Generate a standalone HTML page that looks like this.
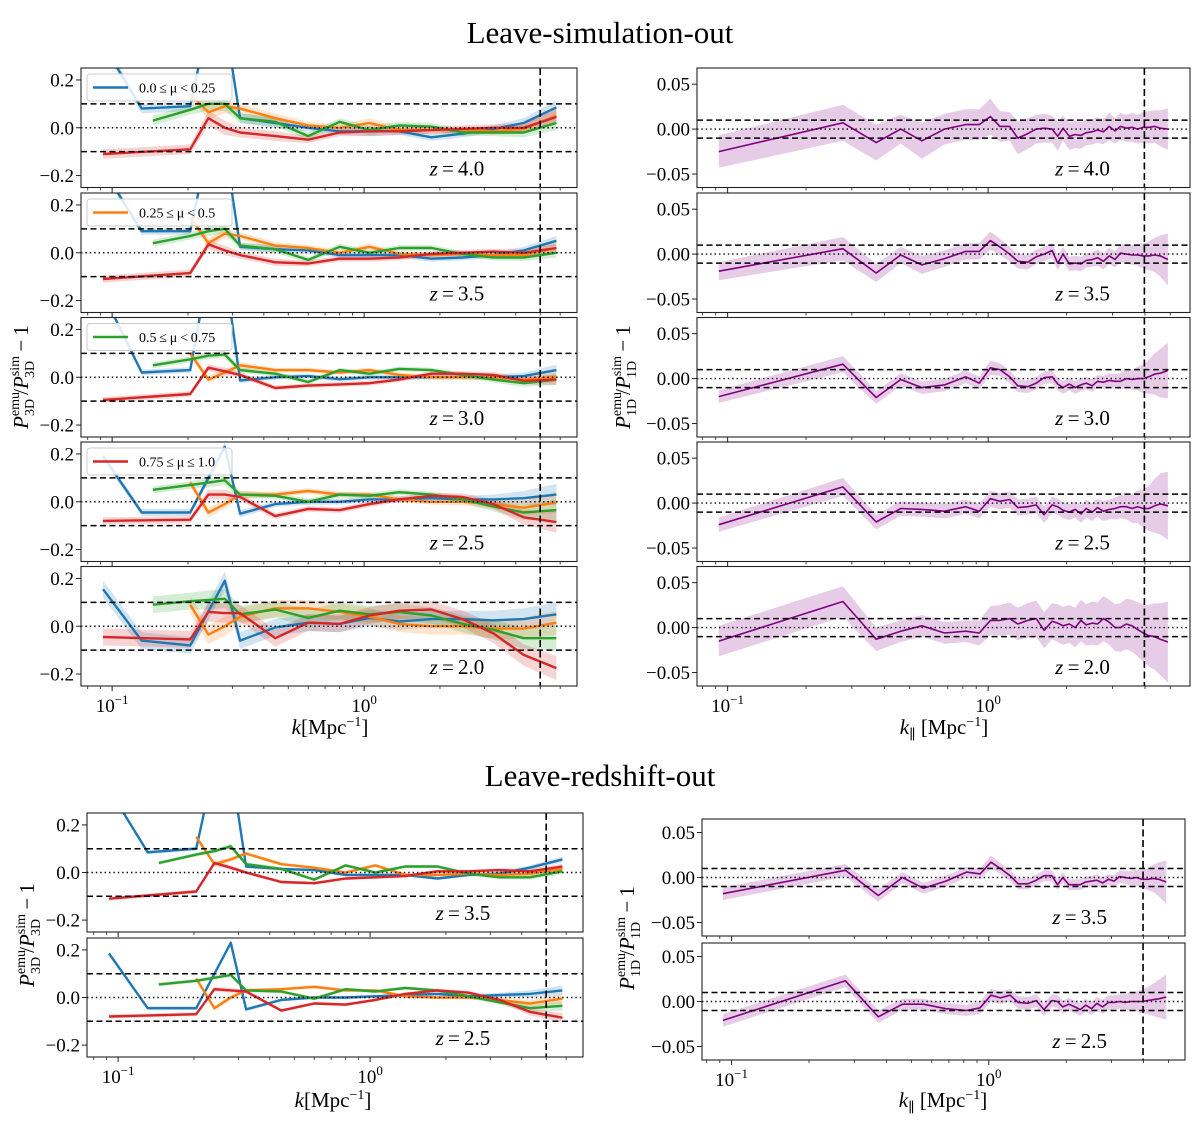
<!DOCTYPE html>
<html><head><meta charset="utf-8"><style>
html,body{margin:0;padding:0;background:#fff}
svg{display:block;font-family:"Liberation Serif","DejaVu Serif",serif}
</style></head><body>
<svg id="fig" width="1200" height="1122" viewBox="0 0 1200 1122" xmlns="http://www.w3.org/2000/svg">
<text x="600" y="43" font-size="31" text-anchor="middle">Leave-simulation-out</text>
<text x="600" y="786" font-size="31" text-anchor="middle">Leave-redshift-out</text>
</svg>
<script>
const N=null;
// ---- left (P3D) data ----
const kLeft=[0.092,0.131,0.145,0.204,0.241,0.28,0.322,0.444,0.60,0.80,1.05,1.38,1.85,2.46,3.26,4.3,5.8];
const muLabels=["0.0\u2009\u2264\u2009\u03bc\u2009<\u20090.25","0.25\u2009\u2264\u2009\u03bc\u2009<\u20090.5","0.5\u2009\u2264\u2009\u03bc\u2009<\u20090.75","0.75\u2009\u2264\u2009\u03bc\u2009\u2264\u20091.0"];
const zTop=["4.0","3.5","3.0","2.5","2.0"];
const zBottom=["3.5","2.5"];
const blueZ40=[0.35,0.08,N,0.09,0.45,0.45,0.04,0.02,0.0,-0.015,-0.015,-0.015,-0.04,-0.025,-0.005,0.02,0.085];
const orangeZ40=[N,N,N,0.14,0.065,0.09,0.08,0.04,0.01,0.0,0.02,-0.01,-0.01,-0.01,-0.015,-0.005,0.05];
const greenZ40=[N,N,0.03,0.075,0.1,0.1,0.04,0.025,-0.035,0.025,-0.01,0.01,0.005,-0.02,-0.02,-0.02,0.02];
const redZ40=[-0.11,N,N,-0.09,0.04,0.0,-0.02,-0.035,-0.05,-0.02,-0.015,-0.015,-0.01,-0.005,0.0,0.0,0.045];
const blueZ35=[0.35,0.09,N,0.09,0.45,0.45,0.025,0.015,0.01,-0.01,-0.01,-0.01,-0.025,-0.02,-0.01,0.01,0.05];
const orangeZ35=[N,N,N,0.15,0.04,0.08,0.07,0.03,0.02,0.0,0.025,-0.005,-0.01,-0.005,-0.01,-0.01,0.02];
const greenZ35=[N,N,0.04,0.07,0.09,0.1,0.03,0.015,-0.03,0.025,0.0,0.02,0.02,-0.005,-0.02,-0.02,0.0];
const redZ35=[-0.11,N,N,-0.085,0.035,0.01,-0.01,-0.04,-0.045,-0.025,-0.025,-0.02,-0.005,0.0,0.005,0.0,0.02];
const blueZ30=[0.35,0.02,N,0.03,0.45,0.45,-0.013,0.0,0.005,-0.008,0.0,0.0,0.0,0.0,0.0,0.005,0.03];
const orangeZ30=[N,N,N,0.1,-0.01,0.02,0.05,0.03,0.03,0.02,0.03,0.01,0.0,0.0,0.0,-0.01,0.0];
const greenZ30=[N,N,0.05,0.075,0.09,0.095,0.03,0.015,-0.02,0.03,0.015,0.035,0.03,0.01,-0.01,-0.025,-0.01];
const redZ30=[-0.095,N,N,-0.07,0.04,0.025,0.01,-0.045,-0.035,-0.03,-0.025,-0.01,0.015,0.015,0.01,-0.015,-0.01];
const blueZ25=[0.19,-0.045,N,-0.045,N,0.23,-0.05,-0.01,0.0,0.0,0.01,0.01,0.015,0.01,0.01,0.015,0.03];
const orangeZ25=[N,N,N,0.08,-0.045,-0.01,0.03,0.03,0.045,0.03,0.03,0.01,0.0,0.0,-0.01,-0.025,-0.003];
const greenZ25=[N,N,0.05,0.07,0.08,0.09,0.03,0.025,0.0,0.03,0.025,0.04,0.03,0.01,-0.02,-0.045,-0.035];
const redZ25=[-0.08,N,N,-0.075,0.03,0.03,0.02,-0.06,-0.03,-0.035,-0.01,0.01,0.025,0.02,-0.01,-0.065,-0.085];
const blueZ20=[0.155,-0.06,N,-0.08,N,0.19,-0.06,-0.005,0.015,0.01,0.035,0.02,0.03,0.03,0.025,0.03,0.05];
const orangeZ20=[N,N,N,0.09,-0.035,0.0,0.04,0.075,0.075,0.06,0.04,0.01,0.0,0.0,-0.01,-0.01,0.015];
const greenZ20=[N,N,0.09,0.105,0.11,0.115,0.05,0.07,0.035,0.065,0.05,0.06,0.045,0.01,-0.015,-0.05,-0.05];
const redZ20=[-0.045,N,N,-0.055,0.06,0.055,0.055,-0.05,0.015,0.01,0.045,0.065,0.07,0.03,-0.03,-0.12,-0.175];
const errLeftZ40=[0.02,0.02,0.02,0.02,0.03,0.03,0.02,0.02,0.015,0.015,0.02,0.015,0.015,0.015,0.015,0.02,0.03];
const errLeftZ35=[0.015,0.015,0.015,0.015,0.02,0.02,0.015,0.015,0.012,0.012,0.012,0.012,0.012,0.012,0.012,0.015,0.02];
const errLeftZ30=[0.012,0.012,0.012,0.012,0.015,0.015,0.012,0.01,0.01,0.01,0.01,0.01,0.01,0.01,0.012,0.015,0.022];
const errLeftZ25=[0.015,0.015,0.015,0.015,0.02,0.02,0.015,0.012,0.012,0.012,0.012,0.012,0.012,0.015,0.02,0.03,0.045];
const errLeftZ20=[0.035,0.035,0.035,0.035,0.04,0.04,0.035,0.035,0.035,0.035,0.035,0.035,0.035,0.035,0.04,0.045,0.05];
const blueB35=[0.35,0.085,N,0.1,0.45,0.45,0.025,0.015,0.01,-0.01,-0.01,-0.01,-0.025,-0.01,-0.005,0.02,0.055];
const orangeB35=[N,N,N,0.15,0.035,0.055,0.08,0.035,0.02,0.0,0.03,-0.01,-0.01,-0.005,-0.01,-0.005,0.015];
const greenB35=[N,N,0.04,0.075,0.09,0.11,0.035,0.015,-0.03,0.03,0.0,0.025,0.025,-0.005,-0.02,-0.02,0.005];
const redB35=[-0.11,N,N,-0.08,0.04,0.02,0.0,-0.04,-0.045,-0.025,-0.02,-0.015,0.005,0.005,0.01,0.005,0.025];
const blueB25=[0.185,-0.045,N,-0.045,N,0.23,-0.05,-0.01,0.0,0.0,0.005,0.01,0.015,0.005,0.01,0.015,0.03];
const orangeB25=[N,N,N,0.08,-0.045,0.0,0.03,0.035,0.045,0.03,0.03,0.005,0.0,0.0,-0.01,-0.025,-0.005];
const greenB25=[N,N,0.055,0.07,N,0.095,0.03,0.025,-0.005,0.035,0.025,0.04,0.03,0.005,-0.02,-0.045,-0.035];
const redB25=[-0.08,N,N,-0.07,0.035,0.03,0.025,-0.055,-0.025,-0.03,-0.01,0.015,0.03,0.02,-0.01,-0.06,-0.085];
const errLeftB35=[0.008,0.008,0.008,0.008,0.01,0.01,0.008,0.007,0.007,0.007,0.007,0.007,0.007,0.007,0.008,0.01,0.012];
const errLeftB25=[0.008,0.008,0.008,0.008,0.01,0.01,0.008,0.007,0.007,0.007,0.007,0.007,0.007,0.008,0.01,0.015,0.02];
// ---- right (P1D) data ----
const kRight=[0.0925,0.277,0.372,0.462,0.557,0.681,0.82,0.925,1.02,1.11,1.21,1.30,1.42,1.53,1.64,1.76,1.85,1.94,2.05,2.16,2.27,2.38,2.51,2.63,2.77,2.92,3.07,3.22,3.39,3.57,3.75,3.94,4.14,4.36,4.58,4.9];
const p1dZ40=[-0.025,0.007,-0.015,0.0,-0.013,0.0,0.005,0.005,0.014,0.003,0.003,-0.01,-0.005,0.0,0.001,0.0,-0.008,0.001,-0.008,-0.006,-0.007,-0.004,-0.003,-0.001,-0.003,0.003,-0.002,0.003,0.001,0.002,0.0,0.002,0.002,0.003,0.001,0.0];
const errZ40=[0.018,0.02,0.02,0.016,0.02,0.017,0.017,0.017,0.02,0.017,0.016,0.018,0.017,0.016,0.016,0.015,0.016,0.014,0.015,0.015,0.015,0.014,0.014,0.014,0.014,0.015,0.014,0.015,0.015,0.016,0.016,0.017,0.018,0.018,0.02,0.023];
const p1dZ35=[-0.019,0.006,-0.021,-0.001,-0.012,-0.005,0.003,0.003,0.015,0.008,0.0,-0.008,-0.009,-0.003,0.0,0.004,-0.01,0.0,-0.011,-0.01,-0.011,-0.007,-0.006,-0.004,-0.008,-0.002,-0.006,0.001,0.0,-0.001,-0.001,-0.002,-0.002,-0.001,-0.002,-0.006];
const errZ35=[0.01,0.013,0.01,0.009,0.01,0.009,0.009,0.009,0.01,0.009,0.008,0.008,0.008,0.008,0.008,0.008,0.008,0.008,0.008,0.008,0.008,0.008,0.008,0.009,0.009,0.009,0.009,0.01,0.01,0.011,0.012,0.014,0.016,0.019,0.023,0.029];
const p1dZ30=[-0.02,0.016,-0.021,-0.001,-0.01,-0.007,0.002,-0.005,0.012,0.01,0.002,-0.008,-0.009,-0.005,0.001,0.002,-0.006,-0.01,-0.006,-0.01,-0.007,-0.005,-0.008,-0.003,-0.004,-0.002,-0.003,-0.003,0.0,-0.001,0.0,0.0,0.002,0.005,0.006,0.009];
const errZ30=[0.007,0.009,0.007,0.007,0.007,0.007,0.007,0.007,0.008,0.007,0.007,0.007,0.007,0.007,0.007,0.007,0.007,0.007,0.007,0.007,0.007,0.007,0.007,0.007,0.007,0.008,0.008,0.009,0.01,0.011,0.013,0.016,0.019,0.023,0.027,0.031];
const p1dZ25=[-0.024,0.018,-0.021,-0.006,-0.007,-0.009,-0.004,-0.009,0.005,0.002,0.004,-0.005,-0.004,-0.002,-0.013,-0.002,-0.004,-0.008,-0.01,-0.007,-0.012,-0.006,-0.01,-0.005,-0.009,-0.007,-0.006,-0.004,-0.004,-0.006,-0.004,-0.006,-0.006,-0.003,-0.001,-0.003];
const errZ25=[0.008,0.01,0.008,0.008,0.008,0.008,0.008,0.008,0.009,0.009,0.009,0.009,0.009,0.009,0.009,0.009,0.009,0.009,0.009,0.009,0.01,0.01,0.01,0.01,0.011,0.011,0.012,0.013,0.014,0.016,0.018,0.021,0.025,0.03,0.034,0.038];
const p1dZ20=[-0.015,0.029,-0.013,-0.004,0.002,-0.006,-0.004,-0.006,0.008,0.008,0.01,0.004,0.008,0.01,-0.003,0.007,0.005,0.002,0.004,0.0,0.008,0.003,0.005,0.004,0.01,0.006,0.0,0.0,0.004,0.002,-0.002,-0.006,-0.009,-0.01,-0.013,-0.016];
const errZ20=[0.017,0.017,0.013,0.012,0.012,0.012,0.012,0.014,0.016,0.017,0.018,0.018,0.019,0.02,0.02,0.02,0.021,0.021,0.021,0.022,0.023,0.023,0.024,0.024,0.025,0.025,0.026,0.027,0.028,0.029,0.03,0.032,0.034,0.037,0.04,0.045];
const p1dB35=[-0.018,0.008,-0.02,0.0,-0.012,-0.004,0.006,0.004,0.017,0.01,0.002,-0.007,-0.007,-0.003,0.002,0.002,-0.008,0.0,-0.008,-0.008,-0.008,-0.005,-0.004,-0.003,-0.006,-0.002,-0.004,0.001,0.0,-0.001,0.0,-0.002,-0.002,-0.001,-0.002,-0.005];
const errB35=[0.007,0.007,0.007,0.006,0.006,0.006,0.006,0.006,0.007,0.006,0.006,0.006,0.006,0.006,0.006,0.006,0.006,0.006,0.006,0.006,0.006,0.006,0.006,0.006,0.006,0.006,0.006,0.007,0.007,0.008,0.009,0.01,0.012,0.015,0.019,0.024];
const p1dB25=[-0.021,0.023,-0.017,-0.003,-0.003,-0.008,-0.01,-0.007,0.007,0.004,0.007,-0.001,-0.002,0.001,-0.009,0.001,0.0,-0.006,-0.003,-0.006,-0.009,-0.004,-0.008,-0.002,-0.006,-0.001,-0.001,0.0,-0.001,0.0,0.0,0.0,0.001,0.002,0.003,0.005];
const errB25=[0.007,0.007,0.007,0.006,0.006,0.006,0.006,0.007,0.007,0.007,0.007,0.007,0.007,0.007,0.007,0.007,0.007,0.007,0.007,0.007,0.007,0.007,0.007,0.007,0.008,0.008,0.008,0.008,0.009,0.01,0.011,0.013,0.015,0.018,0.021,0.025];

const kCutLeft=5.0, kCutRight=3.98;
const colors=["#1f77b4","#ff7f0e","#2ca02c","#d62728"];
const NS="http://www.w3.org/2000/svg";
const svg=document.getElementById("fig");
function mk(tag,attrs,parent){const e=document.createElementNS(NS,tag);for(const k in attrs)e.setAttribute(k,attrs[k]);(parent||svg).appendChild(e);return e;}
let clipId=0;

function drawPanel(p){
  const g=mk("g",{});
  
  
  const W=p.x1-p.x0;
  const xs=k=>p.x0+(Math.log10(k)-p.lmin)/(p.lmax-p.lmin)*W;
  const ys=v=>p.y0+(p.ymax-v)/(p.ymax-p.ymin)*p.h;
  const cid="c"+(clipId++);
  const cp=mk("clipPath",{id:cid},g);mk("rect",{x:p.x0,y:p.y0,width:W,height:p.h},cp);
  const plot=mk("g",{"clip-path":"url(#"+cid+")"},g);
  // series bands + lines
  p.series.forEach((s,si)=>{
    const pts=[];
    s.vals.forEach((v,i)=>{if(v!==null&&i<p.k.length)pts.push([p.k[i],v,s.err[i]||0]);});
    if(!pts.length)return;
    const up=pts.map(q=>xs(q[0]).toFixed(1)+","+ys(q[1]+q[2]).toFixed(1));
    const dn=pts.slice().reverse().map(q=>xs(q[0]).toFixed(1)+","+ys(q[1]-q[2]).toFixed(1));
    const band=mk("polygon",{points:up.concat(dn).join(" "),fill:s.color,"fill-opacity":s.bandOp,stroke:"none"},plot);
    
    
  });
  p.series.forEach(s=>{
    const pts=[];
    s.vals.forEach((v,i)=>{if(v!==null&&i<p.k.length)pts.push(xs(p.k[i]).toFixed(1)+","+ys(v).toFixed(1));});
    const line=mk("polyline",{points:pts.join(" "),fill:"none",stroke:s.color,"stroke-width":s.lw,"stroke-linejoin":"round"},plot);
    
    
  });
  // reference lines
  [p.band,-p.band].forEach(v=>{const l=mk("line",{x1:p.x0,x2:p.x1,y1:ys(v),y2:ys(v),stroke:"#000","stroke-width":1.5,"stroke-dasharray":"6,3.5"},g);
    
    });
  const zl=mk("line",{x1:p.x0,x2:p.x1,y1:ys(0),y2:ys(0),stroke:"#000","stroke-width":1.4,"stroke-dasharray":"1.4,3"},g);
  
  
  const vl=mk("line",{x1:xs(p.kcut),x2:xs(p.kcut),y1:p.y0,y2:p.y0+p.h,stroke:"#000","stroke-width":1.6,"stroke-dasharray":"7,3.5"},g);
  
  
  // frame
  const fr=mk("rect",{x:p.x0,y:p.y0,width:W,height:p.h,fill:"none",stroke:"#222","stroke-width":1.1},g);
  
  
  // y ticks
  p.yticks.forEach((v,i)=>{
    mk("line",{x1:p.x0-5,x2:p.x0,y1:ys(v),y2:ys(v),stroke:"#222","stroke-width":1},g);
    const t=mk("text",{x:p.x0-7,y:ys(v)+6.5,"font-size":19,"text-anchor":"end"},g);
    t.textContent=p.ylabels[i];
    
    
  });
  // x ticks (log)
  for(let d=-2;d<=1;d++){for(let m=1;m<=9;m++){
    const lv=d+Math.log10(m);
    if(lv<p.lmin||lv>p.lmax)continue;
    const x=xs(Math.pow(10,lv));
    mk("line",{x1:x,x2:x,y1:p.y0+p.h,y2:p.y0+p.h+(m===1?5:3),stroke:"#222","stroke-width":m===1?1:0.8},g);
    if(m===1&&p.showX){
      const t=mk("text",{x:x,y:p.y0+p.h+26,"font-size":19,"text-anchor":"middle"},g);
      
      
      const a=mk("tspan",{},t);a.textContent="10";
      const b=mk("tspan",{dy:-8,"font-size":13},t);b.textContent=d<0?"\u2212"+(-d):String(d);
    }
  }}
  // z label
  const zt=mk("text",{x:p.x0+W*p.zfrac,y:p.y0+p.h-12,"font-size":21,"text-anchor":"middle"},g);
  
  
  const zi=mk("tspan",{"font-style":"italic"},zt);zi.textContent="z";
  const zr=mk("tspan",{},zt);zr.textContent="\u2009=\u2009"+p.z;
  // legend
  if(p.legend!==undefined){
    const lg=mk("g",{},g);
    
    
    mk("rect",{x:p.x0+6,y:p.y0+6,width:145,height:27,rx:3,fill:"#fff","fill-opacity":0.85,stroke:"#ccc","stroke-width":1},lg);
    mk("line",{x1:p.x0+12,x2:p.x0+47,y1:p.y0+19.5,y2:p.y0+19.5,stroke:colors[p.legend],"stroke-width":2.5},lg);
    const lt=mk("text",{x:p.x0+58,y:p.y0+24.5,"font-size":14},lg);
    lt.textContent=muLabels[p.legend];
  }
}

function leftSeries(b,o,gr,r,err){
  const arr=[b,o,gr,r];
  const names=["mu-0-025","mu-025-05","mu-05-075","mu-075-1"];
  return arr.map((v,i)=>({vals:v,err:err,color:colors[i],bandOp:0.2,lw:2.4,name:names[i]}));
}
const topL=[[blueZ40,orangeZ40,greenZ40,redZ40,errLeftZ40],[blueZ35,orangeZ35,greenZ35,redZ35,errLeftZ35],[blueZ30,orangeZ30,greenZ30,redZ30,errLeftZ30],[blueZ25,orangeZ25,greenZ25,redZ25,errLeftZ25],[blueZ20,orangeZ20,greenZ20,redZ20,errLeftZ20]];
const topR=[[p1dZ40,errZ40],[p1dZ35,errZ35],[p1dZ30,errZ30],[p1dZ25,errZ25],[p1dZ20,errZ20]];
const topsL=[68,193,317.5,442,566.5];
topL.forEach((d,i)=>{
  drawPanel({name:"p3d-panel-z"+zTop[i],x0:81,x1:577,y0:topsL[i],h:119.5,lmin:-1.1236,lmax:0.845,ymin:-0.25,ymax:0.25,
    k:kLeft,series:leftSeries(d[0],d[1],d[2],d[3],d[4]),band:0.1,kcut:kCutLeft,yticks:[0.2,0,-0.2],ylabels:["0.2","0.0","\u22120.2"],
    showX:i===4,z:zTop[i],zfrac:0.758,legend:i<4?i:undefined});
  drawPanel({name:"p1d-panel-z"+zTop[i],x0:697,x1:1190,y0:topsL[i],h:119.5,lmin:-1.1175,lmax:0.775,ymin:-0.065,ymax:0.068,
    k:kRight,series:[{vals:topR[i][0],err:topR[i][1],color:"#800080",bandOp:0.2,lw:1.6,name:"p1d"}],band:0.01,kcut:kCutRight,
    yticks:[0.05,0,-0.05],ylabels:["0.05","0.00","\u22120.05"],showX:i===4,z:zTop[i],zfrac:0.782});
});
const botL=[[blueB35,orangeB35,greenB35,redB35,errLeftB35],[blueB25,orangeB25,greenB25,redB25,errLeftB25]];
const botR=[[p1dB35,errB35],[p1dB25,errB25]];
const topsB=[813,938];const topsBR=[819,943];
botL.forEach((d,i)=>{
  drawPanel({name:"p3d-redshift-panel-z"+zBottom[i],x0:87,x1:583,y0:topsB[i],h:119,lmin:-1.1236,lmax:0.845,ymin:-0.25,ymax:0.25,
    k:kLeft,series:leftSeries(d[0],d[1],d[2],d[3],d[4]),band:0.1,kcut:kCutLeft,yticks:[0.2,0,-0.2],ylabels:["0.2","0.0","\u22120.2"],
    showX:i===1,z:zBottom[i],zfrac:0.758});
  drawPanel({name:"p1d-redshift-panel-z"+zBottom[i],x0:702,x1:1185,y0:topsBR[i],h:117,lmin:-1.115,lmax:0.763,ymin:-0.065,ymax:0.065,
    k:kRight,series:[{vals:botR[i][0],err:botR[i][1],color:"#800080",bandOp:0.2,lw:1.6,name:"p1d"}],band:0.01,kcut:kCutRight,
    yticks:[0.05,0,-0.05],ylabels:["0.05","0.00","\u22120.05"],showX:i===1,z:zBottom[i],zfrac:0.782});
});

// axis labels
function yLabel(x,y,sub,name){
  const t=mk("text",{transform:"translate("+x+","+y+") rotate(-90)","font-size":21,"text-anchor":"middle"});
  
  
  const parts=[["P",{"font-style":"italic"}],["emu",{dy:-9,"font-size":14}],[sub,{dx:-24,dy:15,"font-size":14}],["/",{dy:-6,dx:4}],["P",{"font-style":"italic"}],["sim",{dy:-9,"font-size":14}],[sub,{dx:-22,dy:15,"font-size":14}],["\u2009\u2212\u20091",{dy:-6,dx:5}]];
  parts.forEach(p=>{const s=mk("tspan",p[1],t);s.textContent=p[0];});
}
yLabel(28,377,"3D","y-axis-title-p3d");
yLabel(630,377,"1D","y-axis-title-p1d");
yLabel(34,935,"3D","y-axis-title-p3d-redshift");
yLabel(634,938,"1D","y-axis-title-p1d-redshift");
function xLabel(x,y,par,name){
  const t=mk("text",{x:x,y:y,"font-size":21,"text-anchor":"middle"});
  
  
  const a=mk("tspan",{"font-style":"italic"},t);a.textContent="k";
  if(par){const b=mk("tspan",{dy:5,"font-size":14},t);b.textContent="\u2225";}
  const c=mk("tspan",{dy:par?-5:0},t);c.textContent=(par?" ":"")+"[Mpc";
  const d=mk("tspan",{dy:-8,"font-size":14},t);d.textContent="\u22121";
  const e=mk("tspan",{dy:8},t);e.textContent="]";
}
xLabel(330,734,false,"x-axis-title-k");
xLabel(944,734,true,"x-axis-title-kpar");
xLabel(333,1107,false,"x-axis-title-k-redshift");
xLabel(943,1107,true,"x-axis-title-kpar-redshift");
</script>
</body></html>
